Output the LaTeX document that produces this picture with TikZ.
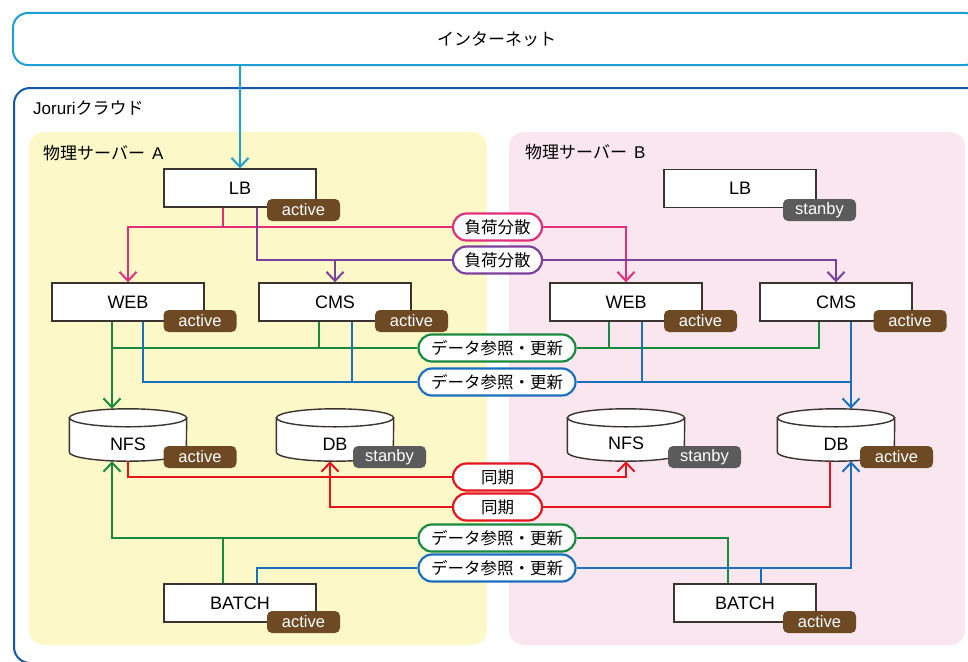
\documentclass[tikz,border=0pt]{standalone}
\usepackage{fontspec}
\setmainfont{Liberation Sans}
\newfontfamily\cjk{Noto Sans CJK JP}
\usetikzlibrary{arrows.meta,calc}
\newcommand\fsz[1]{\fontsize{#1}{#1}\selectfont}
\definecolor{boxc}{HTML}{3A3330}
\definecolor{brn}{HTML}{6E4A24}
\definecolor{gry}{HTML}{5B5B5B}
\definecolor{cyanc}{HTML}{1C9FD3}
\definecolor{cloudc}{HTML}{1456A8}
\definecolor{yel}{HTML}{FDF8C8}
\definecolor{pinkbg}{HTML}{FAE6EF}
\definecolor{pk}{HTML}{E0307A}
\definecolor{pu}{HTML}{7B3F9E}
\definecolor{gn}{HTML}{178A3E}
\definecolor{bl}{HTML}{1A6FBF}
\definecolor{rd}{HTML}{E5141E}
\tikzset{
 srvbox/.style={draw=boxc, fill=white, line width=1.4pt, minimum width=152pt, minimum height=38pt, inner sep=0pt, font=\fsz{18}},
 actb/.style={fill=brn, text=white, rounded corners=5pt, minimum width=73pt, minimum height=22pt, inner sep=0pt, font=\fsz{16.5}},
 stbb/.style={actb, fill=gry},
 pill/.style={fill=white, line width=2.2pt, rounded corners=13.5pt, minimum height=27pt, inner sep=0pt, font=\cjk\fsz{16.5}},
 cylnode/.style={minimum width=117pt, minimum height=52pt, inner sep=0pt},
 conn/.style={line width=2pt},
 arr/.style={-{Straight Barb[length=9pt,width=17pt]}},
}
\newcommand\drawcyl[1]{%
 \filldraw[fill=white, draw=boxc, line width=1.4pt] ($(#1.north west)+(0,9)$) -- ($(#1.south west)+(0,-9)$) arc[start angle=180,end angle=360,x radius=58.5pt,y radius=9pt] -- ($(#1.north east)+(0,9)$) -- cycle;
 \filldraw[fill=white, draw=boxc, line width=1.4pt] ($(#1.north)+(0,9)$) ellipse[x radius=58.5pt,y radius=9pt];
}
\begin{document}
\begin{tikzpicture}[x=1pt,y=-1pt]
\useasboundingbox (0,0) rectangle (968,661);
\clip (0,0) rectangle (968,661);
\fill[white] (0,0) rectangle (968,661);
% internet
\node[draw=cyanc, line width=2pt, rounded corners=15pt, minimum width=967pt, minimum height=52pt, inner sep=0pt, font=\cjk\fsz{17}] (inet) at (496.5,39) {インターネット};
% cloud
\draw[cloudc, line width=2pt, rounded corners=16pt] (14,88) rectangle (995,663);
\node[anchor=west, inner sep=0pt, font=\fsz{17}] (cloudlbl) at (33,108) {Joruri{\cjk クラウド}};
% servers
\fill[yel, rounded corners=15pt] (29,132) rectangle (487,645);
\fill[pinkbg, rounded corners=15pt] (509,132) rectangle (965,645);
\node[anchor=west, inner sep=0pt, font=\fsz{17}] (srvA) at (43,153) {{\cjk 物理サーバー}\hspace{7pt}A};
\node[anchor=west, inner sep=0pt, font=\fsz{17}] (srvB) at (525,152) {{\cjk 物理サーバー}\hspace{7pt}B};
% boxes
\node[srvbox] (lbA) at (240,188) {LB};
\node[srvbox] (lbB) at (740,188.5) {LB};
\node[srvbox] (webA) at (128,302) {WEB};
\node[srvbox] (cmsA) at (335,302) {CMS};
\node[srvbox] (webB) at (626,302) {WEB};
\node[srvbox] (cmsB) at (836,302) {CMS};
\node[srvbox] (batchA) at (240,603) {BATCH};
\node[srvbox, minimum width=142pt] (batchB) at (745,603) {BATCH};
% cylinders
\node[cylnode] (nfsA) at (128,435) {};
\node[cylnode] (dbA) at (335,435) {};
\node[cylnode] (nfsB) at (626,435) {};
\node[cylnode] (dbB) at (836,435) {};
\drawcyl{nfsA}\drawcyl{dbA}\drawcyl{nfsB}\drawcyl{dbB}
\node[font=\fsz{18}, inner sep=0pt] (nfsAt) at (128,444) {NFS};
\node[font=\fsz{18}, inner sep=0pt] (dbAt) at (335,444) {DB};
\node[font=\fsz{18}, inner sep=0pt] (nfsBt) at (626,443) {NFS};
\node[font=\fsz{18}, inner sep=0pt] (dbBt) at (836,444) {DB};
% pills
\node[pill, draw=pk, minimum width=89pt] (lb1) at (497.5,227) {負荷分散};
\node[pill, draw=pu, minimum width=89pt] (lb2) at (497.5,260) {負荷分散};
\node[pill, draw=gn, minimum width=157pt] (g1) at (497,348) {データ参照・更新};
\node[pill, draw=bl, minimum width=157pt] (b1) at (497,382) {データ参照・更新};
\node[pill, draw=rd, minimum width=89pt] (s1) at (497.5,477) {同期};
\node[pill, draw=rd, minimum width=89pt] (s2) at (497.5,507) {同期};
\node[pill, draw=gn, minimum width=157pt] (g2) at (497,538) {データ参照・更新};
\node[pill, draw=bl, minimum width=157pt] (b2) at (497,568) {データ参照・更新};
% connectors
\draw[conn, cyanc, arr] (inet.south -| lbA.north) -- (lbA.north);
% pink
\draw[conn, pk, arr] ([xshift=-17pt]lbA.south) |- (webA.north |- lb1) -- (webA.north);
\draw[conn, pk] ([xshift=-17pt]lbA.south |- lb1) -- (lb1.west);
\draw[conn, pk, arr] (lb1.east) -| (webB.north);
% purple
\draw[conn, pu, arr] ([xshift=17pt]lbA.south) |- (cmsA.north |- lb2) -- (cmsA.north);
\draw[conn, pu] (cmsA.north |- lb2) -- (lb2.west);
\draw[conn, pu, arr] (lb2.east) -| (cmsB.north);
% green top
\draw[conn, gn, arr] ([xshift=-16pt]webA.south) -- ([xshift=-16pt]nfsA.north);
\draw[conn, gn] ([xshift=-16pt]webA.south |- g1) -- (g1.west);
\draw[conn, gn] ([xshift=-16pt]cmsA.south) -- ([xshift=-16pt]cmsA.south |- g1);
\draw[conn, gn] (g1.east) -| ([xshift=-17pt]cmsB.south);
\draw[conn, gn] ([xshift=-17pt]webB.south) -- ([xshift=-17pt]webB.south |- g1);
% blue top
\draw[conn, bl] ([xshift=15pt]webA.south) |- (b1.west);
\draw[conn, bl] ([xshift=17pt]cmsA.south) -- ([xshift=17pt]cmsA.south |- b1);
\draw[conn, bl] (b1.east) -- ([xshift=15pt]cmsB.south |- b1);
\draw[conn, bl, arr] ([xshift=15pt]cmsB.south) -- ([xshift=15pt]dbB.north);
\draw[conn, bl] ([xshift=16pt]webB.south) -- ([xshift=16pt]webB.south |- b1);
% red
\draw[conn, rd] (nfsA.south) |- (s1.west);
\draw[conn, rd, arr] (s1.east) -| (nfsB.south);
\draw[conn, rd] ([xshift=-6pt]dbB.south) |- (s2.east);
\draw[conn, rd, arr] (s2.west) -| ([xshift=-5pt]dbA.south);
% green bottom
\draw[conn, gn, arr] (g2.west) -| ([xshift=-16pt]nfsA.south);
\draw[conn, gn] ([xshift=-17pt]batchA.north) -- ([xshift=-17pt]batchA.north |- g2);
\draw[conn, gn] (g2.east) -| ([xshift=-17pt]batchB.north);
% blue bottom
\draw[conn, bl] ([xshift=17pt]batchA.north) |- (b2.west);
\draw[conn, bl, arr] (b2.east) -| ([xshift=15pt]dbB.south);
\draw[conn, bl] ([xshift=16pt]batchB.north) -- ([xshift=16pt]batchB.north |- b2);
% badges
\node[actb] (lbAs) at (303.5,210) {active};
\node[stbb] (lbBs) at (819.5,210) {stanby};
\node[actb] (webAs) at (200,321) {active};
\node[actb] (cmsAs) at (411.5,321) {active};
\node[actb] (webBs) at (700.5,321) {active};
\node[actb] (cmsBs) at (910,321) {active};
\node[actb] (nfsAs) at (200,457) {active};
\node[stbb] (dbAs) at (389.5,457) {stanby};
\node[stbb] (nfsBs) at (704.5,457) {stanby};
\node[actb] (dbBs) at (896.5,457) {active};
\node[actb] (batchAs) at (303.5,622) {active};
\node[actb] (batchBs) at (819.5,622) {active};
\end{tikzpicture}
\end{document}
